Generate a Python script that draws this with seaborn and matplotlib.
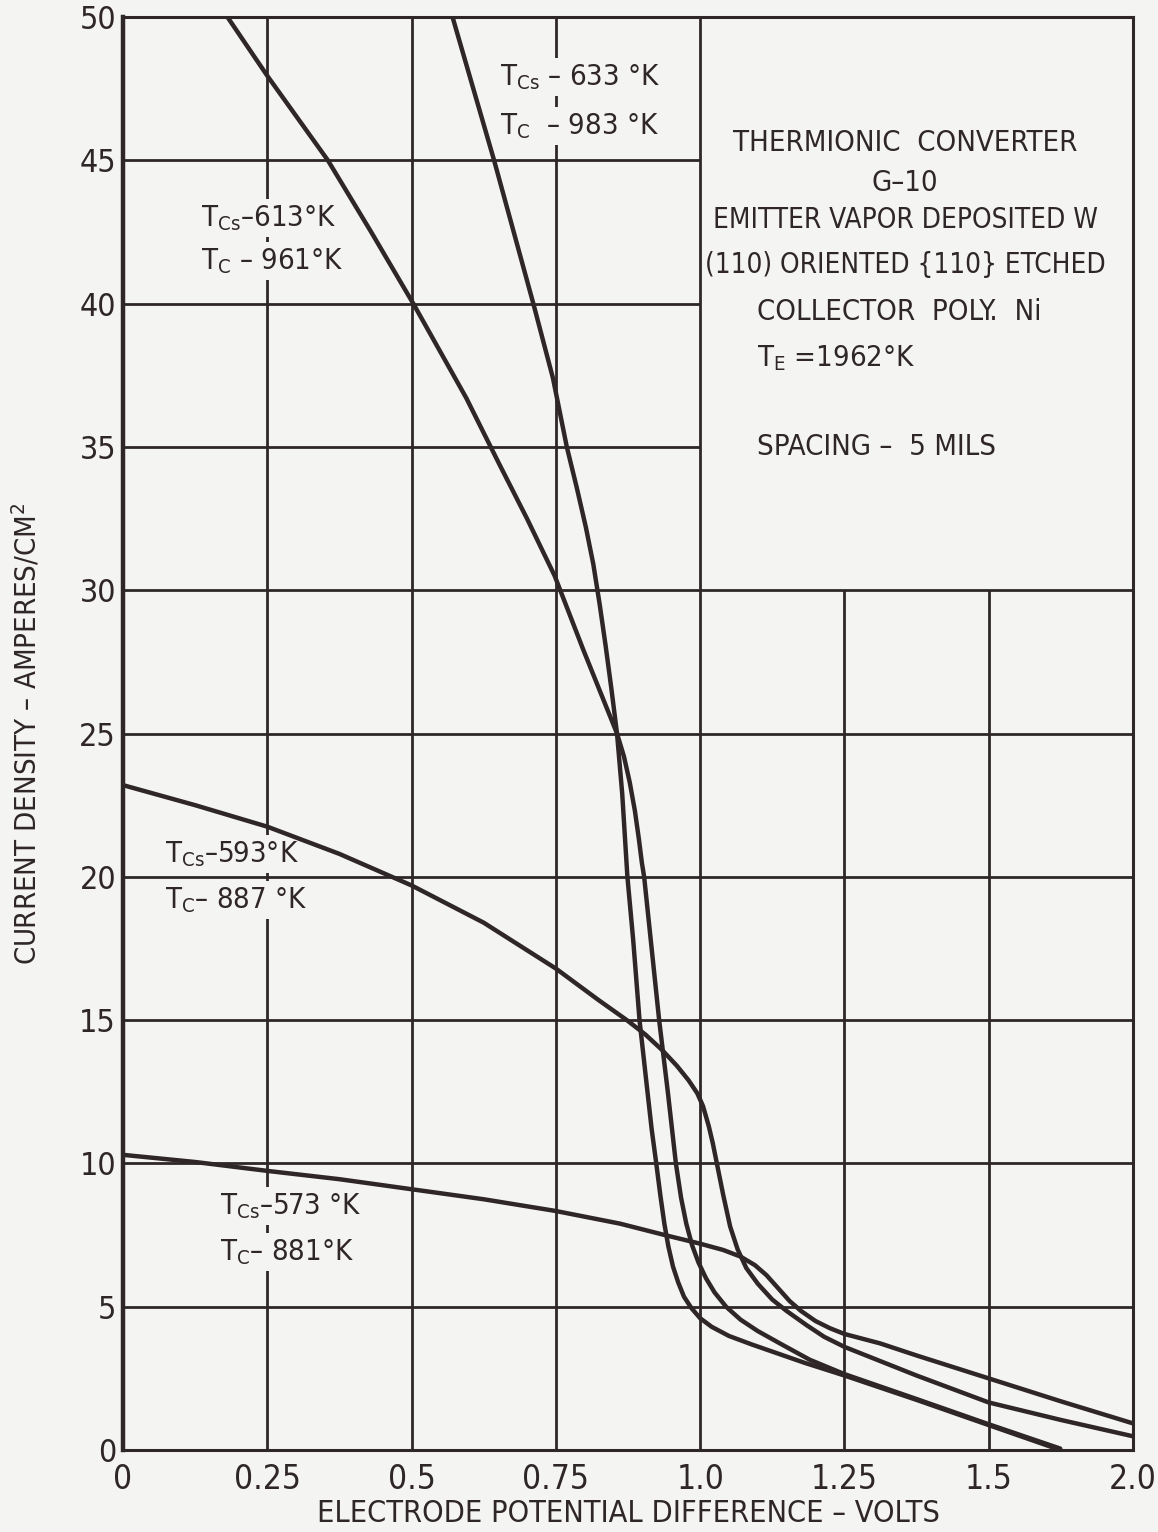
import matplotlib
matplotlib.use("Agg")
import matplotlib.pyplot as plt
import seaborn as sns
import pandas as pd

# grid / axis values
x_ticks = [0, 0.25, 0.5, 0.75, 1.0, 1.25, 1.5, 1.75]
x_tick_labels = ["0", "0.25", "0.5", "0.75", "1.0", "1.25", "1.5", "2.0"]
y_ticks = [0, 5, 10, 15, 20, 25, 30, 35, 40, 45, 50]

# T_Cs 633 K / T_C 983 K
v_633 = [0.571, 0.607, 0.643, 0.677, 0.711, 0.745, 0.769, 0.786, 0.802, 0.815, 0.826,
         0.836, 0.846, 0.856, 0.865, 0.874, 0.884, 0.895, 0.906, 0.916, 0.924, 0.931,
         0.938, 0.945, 0.953, 0.962, 0.972, 0.985, 1.0, 1.02, 1.05, 1.09, 1.13, 1.18,
         1.25, 1.375, 1.5, 1.624]
j_633 = [50, 47.5, 45, 42.5, 40, 37.4, 35, 33.6, 32.2, 30.9, 29.5,
         28.1, 26.6, 25, 22.9, 20, 17.8, 15, 13, 11.2, 10, 8.9,
         7.9, 7.1, 6.4, 5.85, 5.35, 4.95, 4.6, 4.3, 3.98, 3.68, 3.4, 3.05,
         2.6, 1.75, 0.87, 0]

# T_Cs 613 K / T_C 961 K
v_613 = [0.181, 0.25, 0.355, 0.43, 0.503, 0.595, 0.652, 0.70, 0.748, 0.798, 0.856,
         0.868, 0.878, 0.887, 0.894, 0.899, 0.903, 0.916, 0.929, 0.944, 0.958, 0.967,
         0.976, 0.986, 0.997, 1.01, 1.025, 1.045, 1.07, 1.1, 1.14, 1.19, 1.25, 1.375,
         1.5, 1.624]
j_613 = [50, 47.95, 45, 42.5, 40, 36.7, 34.4, 32.5, 30.5, 27.9, 25,
         24.2, 23.3, 22.3, 21.3, 20.5, 20, 17.5, 15, 12.5, 10, 8.8,
         7.9, 7.15, 6.55, 6.0, 5.5, 5.0, 4.55, 4.15, 3.7, 3.15, 2.65, 1.78,
         0.9, 0.05]

# T_Cs 593 K / T_C 887 K
v_593 = [0, 0.125, 0.25, 0.375, 0.5, 0.625, 0.75, 0.824, 0.873, 0.905, 0.934, 0.96,
         0.98, 0.995, 1.005, 1.015, 1.022, 1.029, 1.04, 1.052, 1.065, 1.08, 1.1, 1.125,
         1.15, 1.185, 1.215, 1.25, 1.375, 1.5, 1.625, 1.75]
j_593 = [23.2, 22.5, 21.75, 20.8, 19.7, 18.4, 16.8, 15.7, 15.0, 14.5, 13.96, 13.4,
         12.9, 12.45, 12.0, 11.3, 10.7, 10.0, 8.9, 7.8, 7.0, 6.35, 5.8, 5.25,
         4.85, 4.35, 3.95, 3.6, 2.6, 1.66, 1.05, 0.48]

# T_Cs 573 K / T_C 881 K
v_573 = [0, 0.125, 0.25, 0.375, 0.5, 0.625, 0.75, 0.861, 0.939, 1.0, 1.04, 1.07,
         1.095, 1.115, 1.135, 1.155, 1.175, 1.2, 1.225, 1.25, 1.312, 1.375, 1.5,
         1.625, 1.75]
j_573 = [10.3, 10.05, 9.74, 9.45, 9.1, 8.75, 8.34, 7.9, 7.5, 7.2, 6.98, 6.75,
         6.45, 6.1, 5.65, 5.2, 4.85, 4.5, 4.25, 4.05, 3.72, 3.3, 2.5,
         1.7, 0.93]

curves = [(v_633, j_633), (v_613, j_613), (v_593, j_593), (v_573, j_573)]

bg = "#f4f4f2"
ink = "#2f2727"

sns.set_theme(style="white")
plt.rcParams["font.family"] = ["DejaVu Sans"]
plt.rcParams["font.stretch"] = "condensed"
plt.rcParams["mathtext.fontset"] = "custom"
plt.rcParams["mathtext.rm"] = "DejaVu Sans:stretch=condensed"
plt.rcParams["mathtext.it"] = "DejaVu Sans:stretch=condensed"
plt.rcParams["text.color"] = ink

fig = plt.figure(figsize=(11.58, 15.32), dpi=100, facecolor=bg)
ax = fig.add_axes([0.1062, 0.0535, 0.8722, 0.9354], facecolor=bg)

# grid: upper right block (x > 1.0, J > 30) is left blank for the caption
for xv in x_ticks[1:]:
    ax.vlines(xv, 0, 50 if xv <= 1.0 else 30, color=ink, lw=2.0, zorder=1)
for yv in y_ticks[1:]:
    ax.hlines(yv, 0, 1.75 if yv <= 30 else 1.0, color=ink, lw=2.0, zorder=1)

for v, j in curves:
    df = pd.DataFrame({"v": v, "j": j})
    sns.lineplot(data=df, x="v", y="j", sort=False, estimator=None,
                 color=ink, lw=3.2, ax=ax, zorder=4)

ax.set_xlim(0, 1.75)
ax.set_ylim(0, 50)
ax.set_xticks(x_ticks)
ax.set_xticklabels(x_tick_labels, fontsize=24)
ax.set_yticks(y_ticks)
ax.set_yticklabels([str(t) for t in y_ticks], fontsize=23)
ax.tick_params(axis="both", length=0, colors=ink)
ax.tick_params(axis="x", pad=9)
ax.tick_params(axis="y", pad=5)
for s in ax.spines.values():
    s.set_color(ink)
    s.set_linewidth(2.2)
ax.spines["left"].set_linewidth(3.2)

ax.set_xlabel("ELECTRODE POTENTIAL DIFFERENCE – VOLTS", fontsize=22, color=ink)
ax.xaxis.set_label_coords(0.5, -0.034)
ax.set_ylabel("CURRENT DENSITY – AMPERES/CM$^2$", fontsize=21, color=ink)
ax.yaxis.set_label_coords(-0.080, 0.50)

box = dict(facecolor=bg, edgecolor="none", pad=3)
lab = dict(fontsize=21, color=ink, va="center", ha="left", zorder=3, bbox=box)
ax.text(0.653, 47.9, "T$_{\\mathrm{Cs}}$ – 633 °K", **lab)
ax.text(0.653, 46.2, "T$_{\\mathrm{C}}$  – 983 °K", **lab)
ax.text(0.136, 43.0, "T$_{\\mathrm{Cs}}$–613°K", **lab)
ax.text(0.136, 41.5, "T$_{\\mathrm{C}}$ – 961°K", **lab)
ax.text(0.073, 20.8, "T$_{\\mathrm{Cs}}$–593°K", **lab)
ax.text(0.073, 19.2, "T$_{\\mathrm{C}}$– 887 °K", **lab)
ax.text(0.168, 8.5, "T$_{\\mathrm{Cs}}$–573 °K", **lab)
ax.text(0.168, 6.9, "T$_{\\mathrm{C}}$– 881°K", **lab)

cap = dict(fontsize=21, color=ink, va="center", zorder=3)
ax.text(1.355, 45.6, "THERMIONIC  CONVERTER", ha="center", **cap)
ax.text(1.355, 44.2, "G–10", ha="center", **cap)
ax.text(1.355, 42.9, "EMITTER VAPOR DEPOSITED W", ha="center", fontsize=20,
        color=ink, va="center", zorder=3)
ax.text(1.355, 41.35, "(110) ORIENTED {110} ETCHED", ha="center", fontsize=20,
        color=ink, va="center", zorder=3)
ax.text(1.099, 39.7, "COLLECTOR  POLY.  Ni", ha="left", **cap)
ax.text(1.099, 38.1, "T$_{\\mathrm{E}}$ =1962°K", ha="left", **cap)
ax.text(1.099, 35.0, "SPACING –  5 MILS", ha="left", **cap)

fig.savefig("out.png", dpi=100, facecolor=bg)
